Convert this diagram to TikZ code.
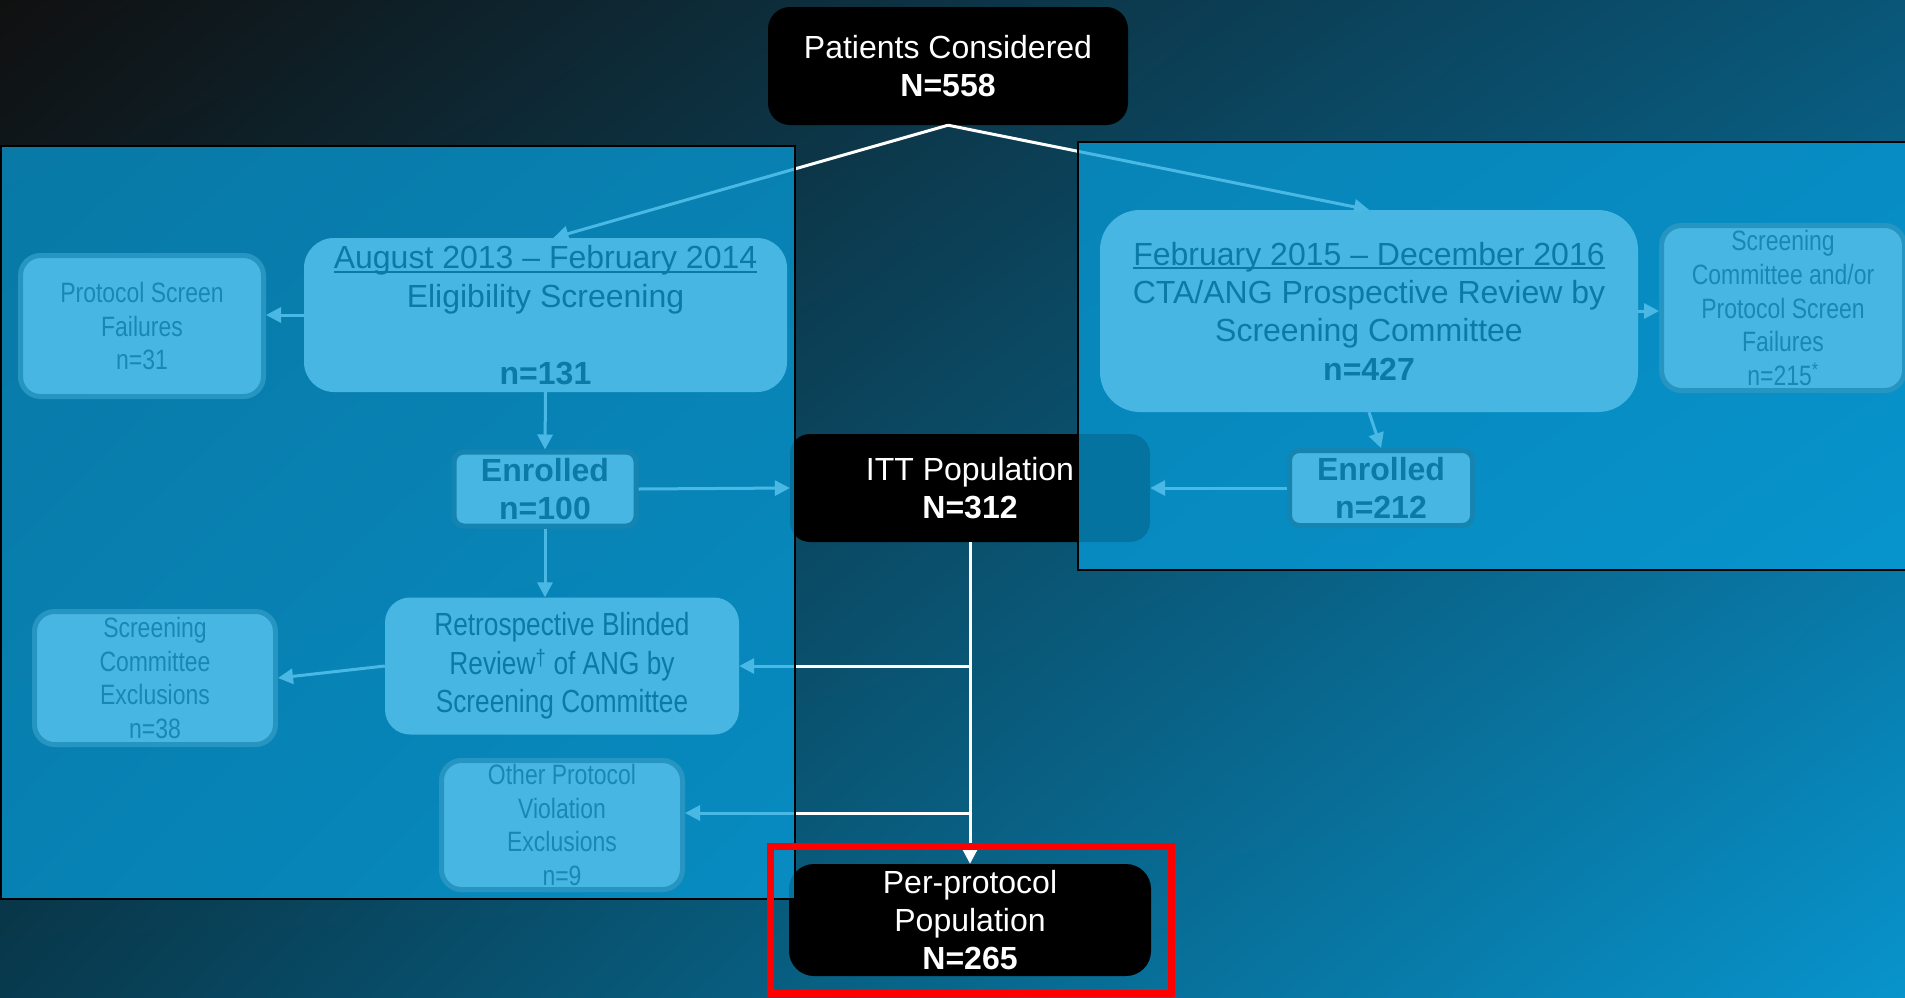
\documentclass[tikz,border=0pt]{standalone}
\usepackage{fontspec}
\setmainfont{Liberation Sans}
\newfontfamily\narrowsans[FakeStretch=0.82]{Liberation Sans}
\usetikzlibrary{arrows.meta,shadings}
\definecolor{bgul}{RGB}{16,16,16}
\definecolor{bgur}{RGB}{9,86,120}
\definecolor{bgll}{RGB}{8,58,78}
\definecolor{bglr}{RGB}{8,148,204}
\definecolor{panelblue}{RGB}{7,158,219}
\newcommand\boxfont{\fontsize{32pt}{38.4pt}\selectfont}
\newcommand\notefont{\narrowsans\fontsize{28pt}{33.6pt}\selectfont}
\newcommand\dateline[1]{\setbox0\hbox{#1}\rlap{\rule[-4pt]{\wd0}{2pt}}\box0}

\begin{document}
\begin{tikzpicture}[x=1pt, y=-1pt,
	blackbox/.style={fill=black, text=white, align=center, inner sep=0pt, font=\boxfont},
	bigbox/.style={fill=black!3, text=black!90, align=center, inner sep=0pt, font=\boxfont},
	notebox/.style={fill=black!3, draw=black!50, line width=5pt, text=black!70, rounded corners=20pt, align=center, inner sep=0pt, font=\notefont, minimum width=243pt},
	enrolbox/.style={fill=black!3, draw=black!75, line width=5pt, text=black!90, rounded corners=10pt, align=center, inner sep=0pt, font=\boxfont\bfseries, minimum width=182pt, minimum height=74pt},
	link/.style={draw=white, line width=3pt, -{Triangle[length=15pt,width=15pt]}},
	panel/.style={fill=panelblue, fill opacity=0.73, draw=black, line width=2.5pt}]
				\useasboundingbox (0,0) rectangle (1905,997);
				\shade[upper left=bgul, upper right=bgur, lower left=bgll, lower right=bglr] (0,0) rectangle (1905,997);
				\node[blackbox, rounded corners=22pt, minimum width=360pt, minimum height=118pt] (PC) at (948,66) {Patients Considered\\\textbf{N=558}};
				\node[bigbox, rounded corners=30pt, minimum width=483pt, minimum height=154pt] (ES) at (545.5,315) {\dateline{August 2013 – February 2014}\\Eligibility Screening\\[38.4pt]\textbf{n=131}};
				\node[notebox, minimum height=141pt] (PF) at (142,326) {Protocol Screen\\Failures\\n=31};
				\node[enrolbox] (EA) at (545,489) {Enrolled\\n=100};
				\node[bigbox, font=\narrowsans\boxfont, rounded corners=25pt, minimum width=354pt, minimum height=137pt] (RR) at (562,666) {Retrospective Blinded\\Review\textsuperscript{†} of ANG by\\Screening Committee};
				\node[notebox, minimum width=241pt, minimum height=133pt] (SE) at (155,678) {Screening\\Committee\\Exclusions\\n=38};
				\node[notebox, minimum width=241pt, minimum height=129pt] (OV) at (562,825) {Other Protocol\\Violation\\Exclusions\\n=9};
				\node[bigbox, rounded corners=40pt, minimum width=538pt, minimum height=202pt] (PR) at (1369,311) {\dateline{February 2015 – December 2016}\\CTA/ANG Prospective Review by\\Screening Committee\\\textbf{n=427}};
				\node[notebox, minimum height=165pt] (SF) at (1783,308) {Screening\\Committee and/or\\Protocol Screen\\Failures\\n=215\textsuperscript{*}};
				\node[enrolbox, minimum width=183pt, minimum height=75pt] (EB) at (1381,488) {Enrolled\\n=212};
				\node[blackbox, rounded corners=20pt, minimum width=360pt, minimum height=108pt] (ITT) at (970,488) {ITT Population\\\textbf{N=312}};
				\node[blackbox, rounded corners=25pt, minimum width=362pt, minimum height=112pt] (PP) at (970,920) {Per-protocol\\Population\\\textbf{N=265}};
				\coordinate (R1) at (970,666);
				\coordinate (R2) at (970,813);
				\draw[link] (PC.south) -- ([xshift=8pt]ES.north);
				\draw[link] (PC.south) -- (PR.north);
				\draw[link] (ES.west) -- (ES.west -| PF.east);
				\draw[link] (ES.south) -- (EA.north);
				\draw[link] (EA.south) -- (EA.south |- RR.north);
				\draw[link] (EA.east) -- (ITT.west);
				\draw[link] (RR.west) -- (SE.east);
				\draw[link] (PR.east) -- (PR.east -| SF.west);
				\draw[link] (PR.south) -- (EB.north);
				\draw[link] (EB.west) -- (ITT.east);
				\draw[link] (ITT.south) -- (PP.north);
				\draw[link] (R1) -- (RR.east);
				\draw[link] (R2) -- (R2 -| OV.east);
				\draw[panel] (1,146) rectangle (795,899);
				\draw[panel] (1078,142) rectangle (1915,570);
				\draw[red, line width=7pt] (770.5,846.5) rectangle (1171.5,993.5);
			\end{tikzpicture}
\end{document}
